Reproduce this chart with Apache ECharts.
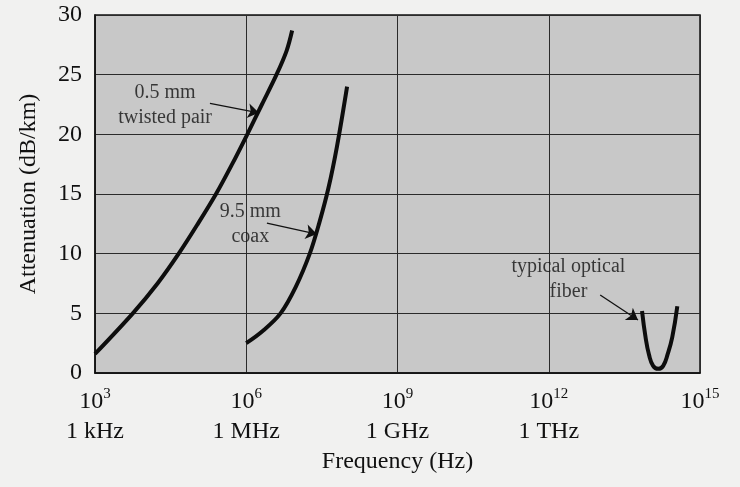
<!DOCTYPE html>
<html>
<head>
<meta charset="utf-8">
<script src="https://cdn.jsdelivr.net/npm/echarts@6/dist/echarts.min.js"></script>
<style>
  html, body { margin: 0; padding: 0; background: #f1f1f0; }
  #chart { width: 740px; height: 487px; }
</style>
</head>
<body>
<div id="chart"></div>
<script>
// frequency is given as log10(Hz), attenuation in dB/km
const unitNames = { 3: '1 kHz', 6: '1 MHz', 9: '1 GHz', 12: '1 THz' };

const twistedLogF = [3.0, 3.75, 4.24, 4.66, 5.04, 5.40, 5.72, 6.02, 6.31, 6.60, 6.80, 6.91];
const twistedDb   = [1.6, 5.0, 7.5, 10.0, 12.5, 15.0, 17.5, 20.0, 22.5, 25.0, 27.0, 28.7];

const coaxLogF = [6.0, 6.32, 6.68, 6.98, 7.26, 7.45, 7.63, 7.8, 8.0];
const coaxDb   = [2.5, 3.5, 5.0, 7.2, 10.0, 12.6, 15.5, 19.0, 24.0];

const fiberLogF = [13.85, 13.92, 13.99, 14.07, 14.17, 14.27, 14.36, 14.45, 14.55];
const fiberDb   = [5.2, 3.0, 1.5, 0.6, 0.35, 0.6, 1.6, 3.0, 5.6];

const noteTexts = ['0.5 mm\ntwisted pair', '9.5 mm\ncoax', 'typical optical\nfiber'];

const chart = echarts.init(document.getElementById('chart'));

function pairs(xs, ys) {
    return xs.map(function (x, i) { return [x, ys[i]]; });
}

const font = 'Liberation Serif';
const ink = '#111';

const curveStyle = { color: '#0d0d0d', width: 4, cap: 'butt' };

const option = {
    backgroundColor: '#f1f1f0',
    animation: false,
    textStyle: { fontFamily: font, color: ink },
    grid: {
        left: 95, right: 40, top: 15, bottom: 114,
        show: true,
        backgroundColor: '#c8c8c8',
        borderColor: '#111',
        borderWidth: 1.5
    },
    xAxis: {
        type: 'value',
        min: 3, max: 15, interval: 3,
        name: 'Frequency (Hz)',
        nameLocation: 'middle',
        nameGap: 77,
        nameTextStyle: { fontFamily: font, fontSize: 24, color: ink },
        axisLine: { show: true, lineStyle: { color: '#111', width: 1.5 } },
        axisTick: { show: false },
        splitLine: { show: true, lineStyle: { color: '#2b2b2b', width: 1 } },
        axisLabel: {
            margin: 14,
            fontFamily: font,
            color: ink,
            formatter: function (v) {
                const e = Math.round(v);
                const name = unitNames[e];
                return '{b|10}{s|' + e + '}' + (name ? '\n{b|' + name + '}' : '');
            },
            rich: {
                b: { fontFamily: font, fontSize: 24, lineHeight: 30, color: ink },
                s: { fontFamily: font, fontSize: 15, lineHeight: 14, verticalAlign: 'top', color: ink }
            }
        }
    },
    yAxis: {
        type: 'value',
        min: 0, max: 30, interval: 5,
        name: 'Attenuation (dB/km)',
        nameLocation: 'middle',
        nameGap: 54,
        nameTextStyle: { fontFamily: font, fontSize: 24, color: ink },
        axisLine: { show: true, lineStyle: { color: '#111', width: 1.5 } },
        axisTick: { show: false },
        splitLine: { show: true, lineStyle: { color: '#2b2b2b', width: 1 } },
        axisLabel: { margin: 13, fontFamily: font, fontSize: 24, color: ink }
    },
    series: [
        {
            name: 'twisted pair',
            type: 'line',
            smooth: 0.35,
            showSymbol: false,
            lineStyle: curveStyle,
            data: pairs(twistedLogF, twistedDb)
        },
        {
            name: 'coax',
            type: 'line',
            smooth: 0.35,
            showSymbol: false,
            lineStyle: curveStyle,
            data: pairs(coaxLogF, coaxDb)
        },
        {
            name: 'fiber',
            type: 'line',
            smooth: 0.45,
            showSymbol: false,
            lineStyle: curveStyle,
            data: pairs(fiberLogF, fiberDb)
        },
        {
            // arrows pointing from the notes to the curves
            type: 'lines',
            coordinateSystem: 'cartesian2d',
            symbol: ['none', 'arrow'],
            symbolSize: [0, 11],
            lineStyle: { color: '#111', width: 1.3, opacity: 1 },
            data: [
                { coords: [[5.28, 22.6], [6.25, 21.8]] },
                { coords: [[6.41, 12.56], [7.40, 11.64]] },
                { coords: [[13.02, 6.53], [13.77, 4.44]] }
            ]
        },
        {
            type: 'scatter',
            symbolSize: 0,
            silent: true,
            label: {
                show: true,
                position: 'inside',
                align: 'center',
                verticalAlign: 'middle',
                fontFamily: font,
                fontSize: 20,
                lineHeight: 25,
                color: ink,
                formatter: function (p) { return p.name; }
            },
            data: [
                { name: noteTexts[0], value: [4.39, 22.4] },
                { name: noteTexts[1], value: [6.08, 12.44] },
                { name: noteTexts[2], value: [12.39, 7.83] }
            ]
        }
    ]
};

chart.setOption(option);
</script>
</body>
</html>
